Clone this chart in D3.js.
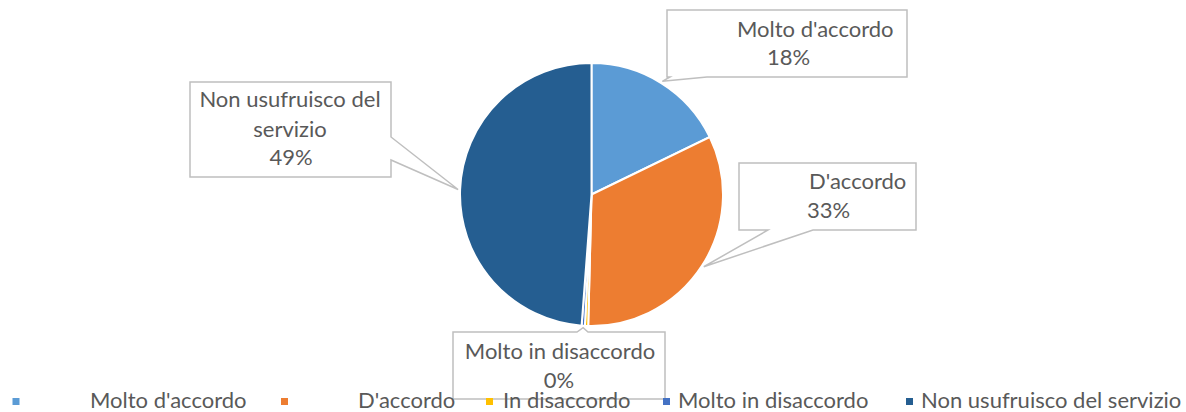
<!DOCTYPE html>
<html>
<head>
<meta charset="utf-8">
<script src="https://cdn.jsdelivr.net/npm/d3@7"></script>
<style>
body { margin: 0; background: #fff; }
text { font-family: Lato, "Open Sans", sans-serif; fill: #595959; }
</style>
</head>
<body>
<svg id="chart" width="1186" height="412"></svg>
<script>
// data
const categories = ["Molto d'accordo", "D'accordo", "In disaccordo", "Molto in disaccordo", "Non usufruisco del servizio"];
const values = [17.8, 32.6, 0.4, 0.4, 48.8];
const colors = ["#5B9BD5", "#ED7D31", "#FFC000", "#4472C4", "#255E91"];

// layout of the callouts (index into categories)
const callouts = [
	{ i: 0, box: [667, 10, 907, 77], side: 'bottom', base: [670, 707],
		lines: [["Molto d'accordo", 737, 37, 'start'], [null, 767, 65, 'start']] },
	{ i: 1, box: [739, 163, 916, 230], side: 'bottom', base: [768, 813],
		lines: [["D'accordo", 809, 189, 'start'], [null, 807, 218, 'start']] },
	{ i: 3, box: [453, 332, 665, 399], side: 'top', base: [577, 588],
		lines: [["Molto in disaccordo", 560, 359, 'middle'], [null, 559, 388, 'middle']] },
	{ i: 4, box: [190, 82, 391, 177], side: 'right', base: [137, 160],
		lines: [["Non usufruisco del", 290, 107, 'middle'], ["servizio", 290, 137, 'middle'], [null, 291, 165, 'middle']] }
];
const legendMarkX = [12.5, 281, 486, 663, 906];
const legendTextX = [90, 358, 503, 678, 921];

const svg = d3.select('#chart');
const cx = 591.5, cy = 194.5, r = 131.5;
const total = d3.sum(values);

let pie = d3.pie().sort(null).value(d => d);
let arcs = pie(values);
let arc = d3.arc().innerRadius(0).outerRadius(r);
let tipArc = d3.arc().innerRadius(r + 2).outerRadius(r + 2);

let g = svg.append('g').attr('transform', 'translate(' + cx + ',' + cy + ')');
g.selectAll('path.slice')
	.data(arcs)
	.join('path')
	.classed('slice', true)
	.attr('d', arc)
	.style('fill', (d, i) => colors[i])
	.style('stroke', '#fff')
	.style('stroke-width', 2);

//callouts
function calloutPath(c, tip) {
	let [x0, y0, x1, y1] = c.box;
	let [b0, b1] = c.base;
	if (c.side == 'bottom')
		return `M${x0},${y0}H${x1}V${y1}H${b1}L${tip[0]},${tip[1]}L${b0},${y1}H${x0}Z`;
	if (c.side == 'top')
		return `M${x0},${y0}H${b0}L${tip[0]},${tip[1]}L${b1},${y0}H${x1}V${y1}H${x0}Z`;
	return `M${x0},${y0}H${x1}V${b0}L${tip[0]},${tip[1]}L${x1},${b1}V${y1}H${x0}Z`;
}

callouts.forEach(c => {
	let t = tipArc.centroid(arcs[c.i]);
	let tip = [t[0] + cx, t[1] + cy];
	svg.append('path')
		.attr('d', calloutPath(c, tip))
		.style('fill', '#fff')
		.style('stroke', '#BFBFBF')
		.style('stroke-width', 1.5);
	c.lines.forEach(l => {
		svg.append('text')
			.attr('x', l[1])
			.attr('y', l[2])
			.attr('text-anchor', l[3])
			.style('font-size', '22px')
			.text(l[0] == null ? Math.round(values[c.i] / total * 100) + '%' : l[0]);
	});
});

//legend
let legendItems = svg.selectAll('g.legendItem')
	.data(categories)
	.join('g')
	.classed('legendItem', true);

legendItems.append('rect')
	.attr('x', (d, i) => legendMarkX[i])
	.attr('y', 398)
	.attr('width', 7)
	.attr('height', 7)
	.style('fill', (d, i) => colors[i]);

legendItems.append('text')
	.attr('x', (d, i) => legendTextX[i])
	.attr('y', 407.5)
	.style('font-size', '22px')
	.text(d => d);
</script>
</body>
</html>
